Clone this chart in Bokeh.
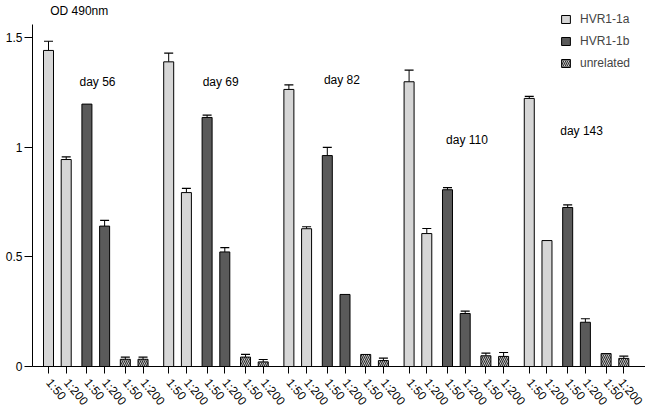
from bokeh.plotting import figure
from bokeh.models import (ColumnDataSource, Range1d, FixedTicker, Whisker, TeeHead,
                          Legend, LegendItem, Label)
from bokeh.core.properties import value
from bokeh.embed import file_html
from bokeh.resources import INLINE

# ---------------- data ----------------
days = ["day  56", "day  69", "day  82", "day  110", "day  143"]
dilutions = ["1:50", "1:200"]
antigens = ["HVR1-1a", "HVR1-1b", "unrelated"]

# values ordered: day56 1:50, day56 1:200, day69 1:50, ...
hvr1a_od = [1.443, 0.945, 1.391, 0.794, 1.265, 0.629, 1.300, 0.607, 1.224, 0.575]
hvr1a_err = [0.042, 0.012, 0.040, 0.019, 0.021, 0.009, 0.053, 0.023, 0.009, 0.0]
hvr1b_od = [1.198, 0.641, 1.137, 0.523, 0.963, 0.329, 0.807, 0.242, 0.726, 0.202]
hvr1b_err = [0.0, 0.026, 0.011, 0.020, 0.037, 0.0, 0.010, 0.011, 0.012, 0.016]
unrel_od = [0.033, 0.033, 0.043, 0.021, 0.055, 0.027, 0.049, 0.046, 0.059, 0.037]
unrel_err = [0.010, 0.010, 0.012, 0.011, 0.0, 0.011, 0.012, 0.018, 0.0, 0.010]

day_label_od = [1.30, 1.30, 1.307, 1.032, 1.074]
y_ticks = [0, 0.5, 1, 1.5]
y_tick_labels = ["0", "0.5", "1", "1.5"]
y_title = "OD 490nm"
y_axis_top = 1.5616

# ---------------- layout / style ----------------
FONT = "Liberation Sans"
FIRST, STEP, PAIR_GAP = 0.904, 6.79, 0.17
DAY_LABEL_SHIFT = [1.75, 1.92, 1.98, 2.09, 1.75]


def pos(g, j):
    return round(FIRST + g * STEP + j + (j // 2) * PAIR_GAP, 4)


styles = [
    dict(fill_color="#d6d6d6"),
    dict(fill_color="#5a5a5a"),
    dict(fill_color="#eeeeee", hatch_pattern="\\", hatch_color="#303030",
         hatch_scale=4, hatch_weight=1.2),
]
series_od = [hvr1a_od, hvr1b_od, unrel_od]
series_err = [hvr1a_err, hvr1b_err, unrel_err]

p = figure(width=645, height=415, output_backend="svg", toolbar_location=None,
           x_range=Range1d(0, 34.63), y_range=Range1d(0, 1.671),
           min_border_left=32, min_border_right=0, min_border_top=0,
           min_border_bottom=49)

renderers = []
for a, name in enumerate(antigens):
    xs = [pos(g, 2 * a + d) for g in range(len(days)) for d in range(len(dilutions))]
    src = ColumnDataSource(dict(x=xs, top=series_od[a]))
    r = p.vbar(x="x", top="top", bottom=0, width=0.565, source=src,
               line_color="black", line_width=1, **styles[a])
    renderers.append(r)
    ex, et, eu = [], [], []
    for x, t, e in zip(xs, series_od[a], series_err[a]):
        if e > 0:
            ex.append(x); et.append(t); eu.append(t + e)
    esrc = ColumnDataSource(dict(x=ex, top=et, upper=eu))
    w = Whisker(source=esrc, base="x", lower="top", upper="upper", dimension="height",
                line_color="black", line_width=1,
                upper_head=TeeHead(size=9, line_color="black", line_width=1.2),
                lower_head=None)
    p.add_layout(w)

# day labels
lx = [pos(g, 0) + DAY_LABEL_SHIFT[g] for g in range(len(days))]
p.text(x=lx, y=day_label_od, text=days, text_font=value(FONT),
       text_font_size="12px", text_baseline="middle", text_align="left",
       text_color="black")

# y title (top-left, above the axis)
p.add_layout(Label(x=1.0, y=1.621, text=y_title, text_font=FONT,
                   text_font_size="12px", text_baseline="middle",
                   text_align="left", text_color="black"))

# axes
all_x = sorted(pos(g, j) for g in range(len(days)) for j in range(6))
p.xaxis.ticker = FixedTicker(ticks=all_x)
p.xaxis.major_label_overrides = {pos(g, j): dilutions[j % 2]
                                 for g in range(len(days)) for j in range(6)}
p.xaxis.major_label_orientation = -0.87
p.xaxis.major_tick_out = 7
p.xaxis.major_tick_in = 0
p.xaxis.minor_tick_line_color = None
p.xaxis.major_label_standoff = 7

p.yaxis.ticker = FixedTicker(ticks=y_ticks)
p.yaxis.major_label_overrides = {t: l for t, l in zip(y_ticks, y_tick_labels)}
p.yaxis.major_tick_out = 8
p.yaxis.major_tick_in = 0
p.yaxis.minor_tick_line_color = None
p.yaxis.major_label_standoff = 2
p.yaxis.bounds = (0, y_axis_top)

for ax in (p.xaxis[0], p.yaxis[0]):
    ax.axis_line_color = "black"
    ax.major_tick_line_color = "black"
    ax.major_label_text_font = FONT
    ax.major_label_text_color = "black"
    ax.major_label_text_font_size = "12px"

p.xgrid.visible = False
p.ygrid.visible = False
p.outline_line_color = None

legend = Legend(items=[LegendItem(label=n, renderers=[r]) for n, r in zip(antigens, renderers)],
                location=(528, 293), orientation="vertical", padding=0, margin=0,
                spacing=2, glyph_width=11, glyph_height=10, label_height=20,
                label_standoff=9, label_text_font=FONT, label_text_font_size="12px",
                border_line_alpha=0, background_fill_alpha=0)
p.add_layout(legend)

open("out.html", "w").write(file_html(p, INLINE))
